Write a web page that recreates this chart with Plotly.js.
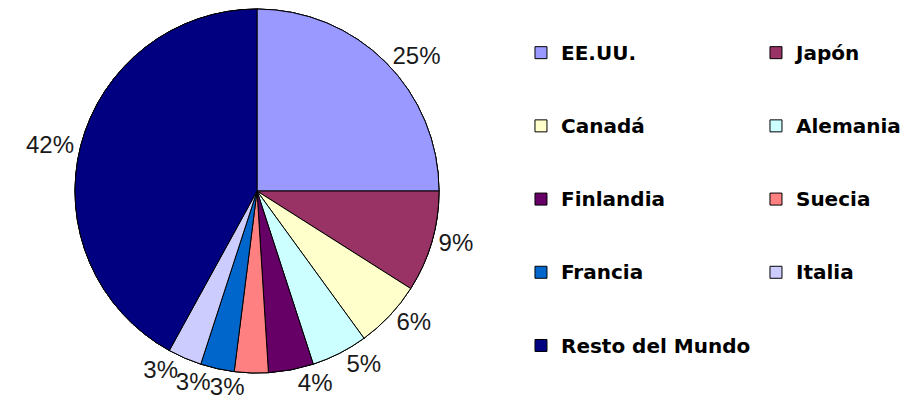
<!DOCTYPE html>
<html>
<head>
<meta charset="utf-8">
<script src="https://cdn.plot.ly/plotly-3.0.1.min.js"></script>
<style>html,body{margin:0;padding:0;background:#fff;}#chart{width:912px;height:410px;}</style>
</head>
<body>
<div id="chart"></div>
<script>
const categories = ['EE.UU.', 'Japón', 'Canadá', 'Alemania', 'Finlandia', 'Suecia', 'Francia', 'Italia', 'Resto del Mundo'];
const shares = [25, 9, 6, 5, 4, 3, 3, 3, 42];
const sliceColors = ['#9999FF', '#993366', '#FFFFCC', '#CCFFFF', '#660066', '#FF8080', '#0066CC', '#CCCCFF', '#000080'];

// Which identical, stacked pie layer carries each slice's outside label
// (so crowded bottom labels keep their natural spot, as in the reference).
const labelLayer = [0, 0, 0, 0, 1, 2, 1, 0, 0];

// blank lines give the legend its tall row spacing; span widens the text
const legendLabels = categories.map(c => '<br><span style="font-size:20px">' + c + '</span><br>');

const pieDomain = { x: [0.125, 0.7317], y: [0.0902, 0.978] };

function pieLayer(k) {
  return {
    type: 'pie',
    labels: legendLabels,
    values: shares,
    sort: false,
    direction: 'clockwise',
    rotation: 0,
    marker: { colors: sliceColors, line: { color: '#000000', width: 1 } },
    textinfo: 'percent',
    texttemplate: '%{percent:.0%}',
    textposition: labelLayer.map(l => (l === k ? 'outside' : 'none')),
    outsidetextfont: { family: 'Liberation Sans, Arial, sans-serif', size: 24, color: '#1a1a1a' },
    domain: pieDomain,
    showlegend: k === 0,
    hoverinfo: 'label+percent'
  };
}

const data = [pieLayer(0), pieLayer(1), pieLayer(2)];

const layout = {
  width: 912,
  height: 410,
  margin: { l: 0, r: 312, t: 0, b: 0, autoexpand: false },
  paper_bgcolor: '#ffffff',
  plot_bgcolor: '#ffffff',
  showlegend: true,
  legend: {
    orientation: 'h',
    entrywidth: 190,
    entrywidthmode: 'pixels',
    maxheight: 1,
    x: 0.8683,
    xanchor: 'left',
    y: 0.973,
    yanchor: 'top',
    font: { family: 'DejaVu Sans, Arial, sans-serif', size: 18, color: '#000000', weight: 'bold' },
    bgcolor: 'rgba(0,0,0,0)'
  }
};

Plotly.newPlot('chart', data, layout, { staticPlot: true, displayModeBar: false });
</script>
</body>
</html>
